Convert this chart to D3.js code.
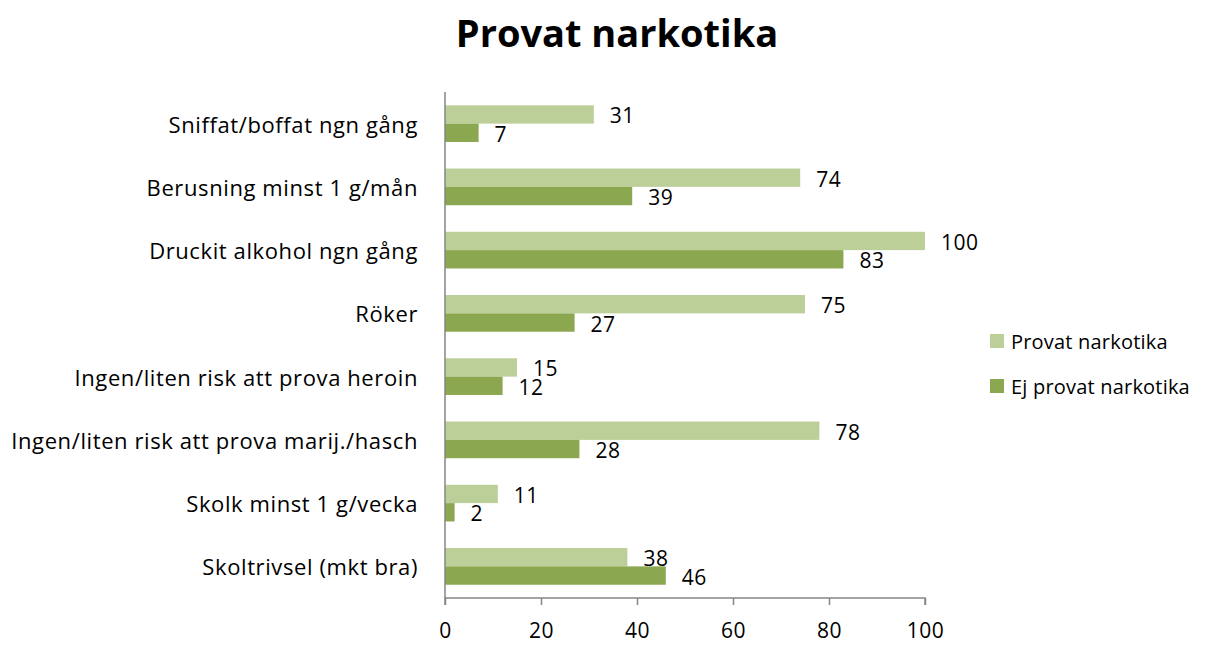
<!DOCTYPE html>
<html>
<head>
<meta charset="utf-8">
<script src="https://cdn.jsdelivr.net/npm/d3@7"></script>
<style>
  body { margin: 0; background: #fff; }
  text { font-family: "Open Sans", sans-serif; fill: #000; }
</style>
</head>
<body>
<svg id="chart" width="1215" height="646"></svg>
<script>
// categories top to bottom
const categories = [
	"Sniffat/boffat ngn gång",
	"Berusning minst 1 g/mån",
	"Druckit alkohol ngn gång",
	"Röker",
	"Ingen/liten risk att prova heroin",
	"Ingen/liten risk att prova marij./hasch",
	"Skolk minst 1 g/vecka",
	"Skoltrivsel (mkt bra)"
];
const seriesNames = ["Provat narkotika", "Ej provat narkotika"];
const provat = [31, 74, 100, 75, 15, 78, 11, 38];
const ejProvat = [7, 39, 83, 27, 12, 28, 2, 46];
const xTicks = [0, 20, 40, 60, 80, 100];

const colors = ["#bccf98", "#8ba750"];

const svg = d3.select("#chart");

const margin = { top: 92, left: 445 };

const g = svg.append("g")
	.attr("transform", "translate(" + margin.left + "," + margin.top + ")");

const x = d3.scaleLinear().domain([0, 100]).range([0, 480]);
const y = d3.scaleBand().domain(categories).range([0, 506]).paddingInner(0.42).paddingOuter(0.21);
const sub = d3.scaleBand().domain(seriesNames).range([0, y.bandwidth()]);

// title
svg.append("text")
	.attr("x", 617)
	.attr("y", 32)
	.attr("text-anchor", "middle")
	.attr("dominant-baseline", "central")
	.style("font-size", "38px")
	.style("font-weight", "bold")
	.text("Provat narkotika");

const rows = categories.map(function(c, i) {
	return { cat: c, vals: [provat[i], ejProvat[i]] };
});

const grp = g.selectAll(".grp")
	.data(rows)
	.enter().append("g")
	.attr("class", "grp")
	.attr("transform", function(d) { return "translate(0," + y(d.cat) + ")"; });

grp.selectAll("rect")
	.data(function(d) { return d.vals.map(function(v, j) { return { v: v, s: seriesNames[j], j: j }; }); })
	.enter().append("rect")
	.attr("x", 0)
	.attr("y", function(d) { return sub(d.s); })
	.attr("width", function(d) { return x(d.v); })
	.attr("height", sub.bandwidth())
	.attr("fill", function(d) { return colors[d.j]; });

grp.selectAll(".val")
	.data(function(d) { return d.vals.map(function(v, j) { return { v: v, s: seriesNames[j] }; }); })
	.enter().append("text")
	.attr("class", "val")
	.attr("x", function(d) { return x(d.v) + 16; })
	.attr("y", function(d) { return sub(d.s) + sub.bandwidth() / 2 + 1; })
	.attr("dominant-baseline", "central")
	.style("font-size", "21px")
	.style("letter-spacing", "0.5px")
	.text(function(d) { return d.v; });

// category labels
g.selectAll(".cat")
	.data(categories)
	.enter().append("text")
	.attr("class", "cat")
	.attr("x", -27)
	.attr("y", function(d) { return y(d) + y.bandwidth() / 2; })
	.attr("text-anchor", "end")
	.attr("dominant-baseline", "central")
	.style("font-size", "22px")
	.style("letter-spacing", "0.6px")
	.text(function(d) { return d; });

// vertical axis line
g.append("line")
	.attr("x1", 0).attr("x2", 0)
	.attr("y1", 0).attr("y2", 506)
	.attr("stroke", "#868686")
	.attr("stroke-width", 1.5);

// bottom axis
const axisB = d3.axisBottom(x)
	.tickValues(xTicks)
	.tickSize(7)
	.tickPadding(18)
	.tickFormat(d3.format("d"));

const xAxis = g.append("g")
	.attr("transform", "translate(0,506)")
	.call(axisB);
xAxis.select(".domain").attr("stroke", "#868686").attr("stroke-width", 1.5).attr("d", "M0,7V0H480V7");
xAxis.selectAll(".tick line").attr("stroke", "#868686").attr("stroke-width", 1.5);
xAxis.selectAll(".tick text")
	.style("font-size", "21px")
	.style("letter-spacing", "0.5px")
	.style("font-family", "'Open Sans', sans-serif")
	.attr("fill", "#000");

// legend
const legend = svg.append("g").attr("transform", "translate(990,0)");
seriesNames.forEach(function(s, i) {
	const ly = 341 + i * 45;
	legend.append("rect")
		.attr("x", 0)
		.attr("y", ly - 7)
		.attr("width", 14)
		.attr("height", 14)
		.attr("fill", colors[i]);
	legend.append("text")
		.attr("x", 21)
		.attr("y", ly)
		.attr("dominant-baseline", "central")
		.style("font-size", "20px")
		.style("letter-spacing", "0.2px")
		.text(s);
});
</script>
</body>
</html>
